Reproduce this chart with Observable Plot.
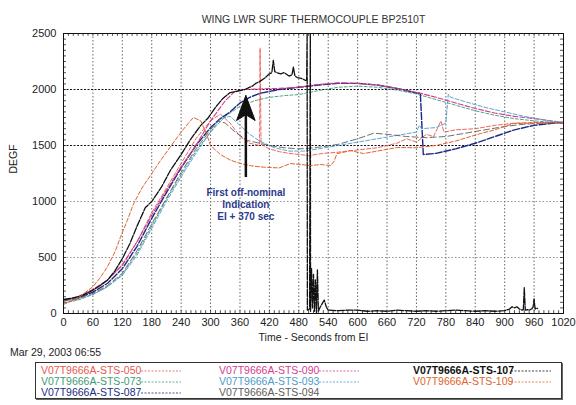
<!DOCTYPE html>
<html>
<head>
<meta charset="utf-8">
<script src="https://cdn.jsdelivr.net/npm/d3@7"></script>
<script src="https://cdn.jsdelivr.net/npm/@observablehq/plot@0.6"></script>
<style>
  html, body { margin: 0; padding: 0; background: #fff; }
  #wrap { position: relative; width: 576px; height: 405px; font-family: "Liberation Sans", Arial, sans-serif; overflow: hidden; }
  #date { position: absolute; left: 10px; top: 346px; font-size: 10.5px; color: #222; }
  #legend { position: absolute; left: 35px; top: 362px; width: 527px; height: 37px; border: 1px solid #333; box-shadow: 1px 1px 0 #666; box-sizing: border-box; }
  .item { position: absolute; font-size: 10.5px; line-height: 11px; white-space: nowrap; }
</style>
</head>
<body>
<div id="wrap">
  <div id="chart"></div>
  <div id="date">Mar 29, 2003 06:55</div>
  <div id="legend"></div>
</div>
<script>
// ---- Labels ----
const title = "WING LWR SURF THERMOCOUPLE BP2510T";
const xLabel = "Time - Seconds from EI";
const yLabel = "DEGF";
const annotation = "First off-nominal\nIndication\nEI + 370 sec";

// ---- Ticks ----
const xTicks = [0, 60, 120, 180, 240, 300, 360, 420, 480, 540, 600, 660, 720, 780, 840, 900, 960, 1020];
const yTicks = [0, 500, 1000, 1500, 2000, 2500];

// ---- Series names / colours ----
const seriesNames = ["V07T9666A-STS-050", "V07T9666A-STS-073", "V07T9666A-STS-087", "V07T9666A-STS-090",
                     "V07T9666A-STS-093", "V07T9666A-STS-094", "V07T9666A-STS-107", "V07T9666A-STS-109"];
const seriesColors = ["#e8584e", "#3f9a78", "#1b2a84", "#d43c8e", "#4d9bcc", "#5d5d5d", "#111111", "#e0642c"];

// ---- STS-050 ----
const t050 = [0,30,60,90,120,150,180,210,240,270,300,320,340,360,380,400,401,403,420,440,460,480,500,530,560,600,640,680,700,720,740,755,770,776,800,840,880,920,960,1020];
const v050 = [90,130,200,300,440,640,900,1120,1340,1560,1720,1780,1700,1580,1520,1500,2370,1510,1470,1445,1430,1420,1410,1430,1440,1460,1480,1520,1560,1530,1600,1580,1720,1620,1640,1650,1680,1700,1705,1710];
// ---- STS-073 ----
const t073 = [0,30,60,90,120,150,180,210,240,270,300,330,360,390,420,450,480,520,560,600,640,680,720,760,800,840,880,920,960,1000,1020];
const v073 = [95,120,170,240,350,540,780,1020,1240,1450,1620,1760,1850,1900,1930,1945,1955,1990,2020,2030,2020,1995,1960,1910,1860,1810,1770,1740,1720,1705,1700];
// ---- STS-087 ----
const t087 = [0,30,60,90,120,150,180,210,240,270,300,320,340,360,380,400,440,480,520,560,600,640,680,720,728,734,760,800,840,880,920,960,1000,1020];
const v087 = [120,140,190,270,400,600,850,1080,1300,1500,1660,1740,1800,1880,1930,1965,2000,2020,2040,2055,2055,2040,2010,1970,1965,1420,1430,1470,1520,1580,1640,1680,1700,1705];
// ---- STS-090 ----
const t090 = [0,30,60,90,120,150,180,210,240,270,300,330,350,370,400,440,480,520,560,600,640,680,720,760,800,840,880,920,960,1000,1020];
const v090 = [110,150,215,300,430,640,880,1100,1310,1500,1720,1900,1985,2000,2005,2010,2020,2045,2060,2055,2040,2010,1975,1930,1880,1830,1790,1760,1740,1715,1700];
// ---- STS-093 ----
const t093 = [0,30,60,90,120,150,180,210,240,270,300,320,340,360,380,400,430,460,490,520,560,600,640,680,720,726,730,760,780,785,790,820,860,900,940,980,1020];
const v093 = [110,130,170,240,340,520,760,1000,1220,1430,1620,1740,1760,1680,1600,1540,1480,1450,1450,1470,1500,1530,1560,1590,1620,1680,1650,1660,1700,1960,1930,1890,1840,1800,1760,1730,1705];
// ---- STS-094 ----
const t094 = [0,30,60,90,120,150,180,210,240,270,300,315,330,350,375,400,420,450,480,500,530,560,600,633,660,700,740,780,820,860,900,940,980,1020];
const v094 = [115,135,180,250,360,560,800,1030,1260,1470,1640,1720,1700,1620,1545,1520,1500,1480,1470,1475,1490,1510,1560,1610,1600,1580,1570,1580,1610,1640,1670,1690,1700,1705];
// ---- STS-107 ----
const t107 = [0,15,30,45,60,75,90,105,120,135,150,167,180,200,218,240,260,280,294,310,325,340,355,370,385,392,400,410,420,425,428,431,435,443,450,460,466,469,472,477,485,494,496,497,497.5,502,503.5,504,506,508,510,512,514,516,518,520,524,528,532,536,540,560,580,600,620,640,660,680,700,720,740,760,780,800,820,840,860,880,900,910,915,920,925,930,936,938,940,942,946,950,955,958,960,962,964,967];
const v107 = [125,135,150,175,210,250,300,380,490,620,780,946,1000,1130,1277,1420,1560,1680,1741,1840,1920,1973,1985,2000,2030,2054,2070,2100,2140,2150,2260,2160,2150,2140,2150,2120,2130,2200,2120,2107,2100,2080,2085,2500,30,40,2500,20,400,50,350,20,300,10,390,20,60,90,120,60,30,25,30,30,20,25,20,30,25,20,25,20,25,30,25,20,25,20,25,40,60,50,60,40,30,35,230,30,35,30,40,60,130,40,50,45];
// ---- STS-109 ----
const t109 = [0,30,60,75,90,105,116,130,143,160,180,198,220,240,255,265,280,292,300,320,340,360,381,400,416,440,463,485,504,525,545,552,558,572,585,600,612,640,681,720,760,800,851,880,918,960,1000,1020];
const v109 = [80,140,240,320,420,550,680,830,980,1120,1250,1366,1500,1620,1700,1750,1720,1600,1500,1420,1370,1340,1320,1310,1304,1300,1339,1330,1321,1330,1321,1360,1428,1440,1455,1440,1428,1450,1482,1480,1500,1540,1607,1640,1696,1700,1705,1700];

// ---- Annotation arrow (data units) ----
const arrowX = 372;
const arrowShaft = [1214, 1770];
const headX = [372, 353, 372, 391, 372];
const headY = [1946, 1723, 1775, 1723, 1946];

const allT = [t050, t073, t087, t090, t093, t094, t107, t109];
const allV = [v050, v073, v087, v090, v093, v094, v107, v109];
const dashes = ["4,2", "3,2", "7,2", "5,2", "4,2", "6,3", "7,1.5", "4,2"];
const widths = [0.9, 0.9, 1.4, 1.1, 0.9, 0.9, 1.3, 1.0];

const rows = seriesNames.map((name, i) => allT[i].map((t, j) => ({series: name, t, v: allV[i][j]})));
const head = headX.map((x, i) => ({x, y: headY[i]}));
const xMinor = d3.range(0, 1021, 10);
const yMinor = d3.range(0, 2501, 50);

const lineMarks = rows.map((data, i) => Plot.line(data, {
  x: "t", y: "v", stroke: seriesColors[i], strokeWidth: widths[i],
  strokeDasharray: dashes[i], clip: true, curve: "linear"
}));

const chart = Plot.plot({
  width: 576, height: 350,
  marginTop: 33, marginBottom: 37, marginLeft: 63, marginRight: 13,
  style: {fontFamily: '"Liberation Sans", Arial, sans-serif', fontSize: "11px", color: "#222", background: "#fff"},
  x: {domain: [0, 1020], label: null},
  y: {domain: [0, 2500], label: null},
  marks: [
    Plot.ruleX(xTicks.slice(1, -1), {stroke: "#555", strokeDasharray: "1.5,2", strokeWidth: 0.9}),
    Plot.ruleY([500, 1000], {stroke: "#777", strokeDasharray: "1.5,2", strokeWidth: 0.8}),
    Plot.ruleY([1500, 2000], {stroke: "#111", strokeDasharray: "2,1.5", strokeWidth: 1.2}),
    Plot.ruleX(xMinor, {y1: 0, y2: 25, stroke: "#222", strokeWidth: 0.8}),
    Plot.ruleX(xMinor, {y1: 2500, y2: 2475, stroke: "#222", strokeWidth: 0.8}),
    Plot.ruleY(yMinor, {x1: 0, x2: 6, stroke: "#222", strokeWidth: 0.8}),
    Plot.ruleY(yMinor, {x1: 1020, x2: 1014, stroke: "#222", strokeWidth: 0.8}),
    ...lineMarks,
    Plot.ruleX([arrowX], {y1: arrowShaft[0], y2: arrowShaft[1], stroke: "#111", strokeWidth: 2.5}),
    Plot.line(head, {x: "x", y: "y", fill: "#111", stroke: "#111", strokeWidth: 1}),
    Plot.text([annotation], {x: arrowX, y: 975, fontSize: 10, fontWeight: "bold", fill: "#2b3a8c", lineHeight: 1.2}),
    Plot.frame({stroke: "#111", strokeWidth: 1}),
    Plot.axisX(xTicks, {tickSize: 0, tickPadding: 5, label: null, fontSize: 11, tickFormat: d => String(d)}),
    Plot.axisY(yTicks, {tickSize: 0, tickPadding: 7, label: null, fontSize: 11, tickFormat: d => String(d)}),
    Plot.text([title], {frameAnchor: "top", dy: -18, fontSize: 10.5, fill: "#333"}),
    Plot.text([xLabel], {frameAnchor: "bottom", dy: 27, fontSize: 10.5, fill: "#222"}),
    Plot.text([yLabel], {frameAnchor: "left", dx: -50, rotate: -90, fontSize: 10.5, fill: "#222"})
  ]
});
document.getElementById("chart").appendChild(chart);

// ---- Legend ----
const legendOrder = [0, 1, 2, 3, 4, 5, 6, 7];
const colX = [5, 183, 377];
const sampleX = [105, 283, 475];
const rowY = [2, 13, 24];
const legend = document.getElementById("legend");
legendOrder.forEach((i, k) => {
  const col = Math.floor(k / 3), row = k % 3;
  const el = document.createElement("div");
  el.className = "item";
  el.style.left = colX[col] + "px";
  el.style.top = rowY[row] + "px";
  el.style.color = seriesColors[i];
  if (i === 6) el.style.fontWeight = "bold";
  el.textContent = seriesNames[i];
  legend.appendChild(el);
  if (i !== 5) {
    const s = document.createElementNS("http://www.w3.org/2000/svg", "svg");
    s.setAttribute("width", 40); s.setAttribute("height", 3);
    s.style.position = "absolute";
    s.style.left = sampleX[col] + "px";
    s.style.top = (rowY[row] + 5) + "px";
    const l = document.createElementNS("http://www.w3.org/2000/svg", "line");
    l.setAttribute("x1", 0); l.setAttribute("x2", 40); l.setAttribute("y1", 1); l.setAttribute("y2", 1);
    l.setAttribute("stroke", seriesColors[i]);
    l.setAttribute("stroke-width", 0.8);
    l.setAttribute("stroke-dasharray", "2,1.5");
    s.appendChild(l);
    legend.appendChild(s);
  }
});
</script>
</body>
</html>
